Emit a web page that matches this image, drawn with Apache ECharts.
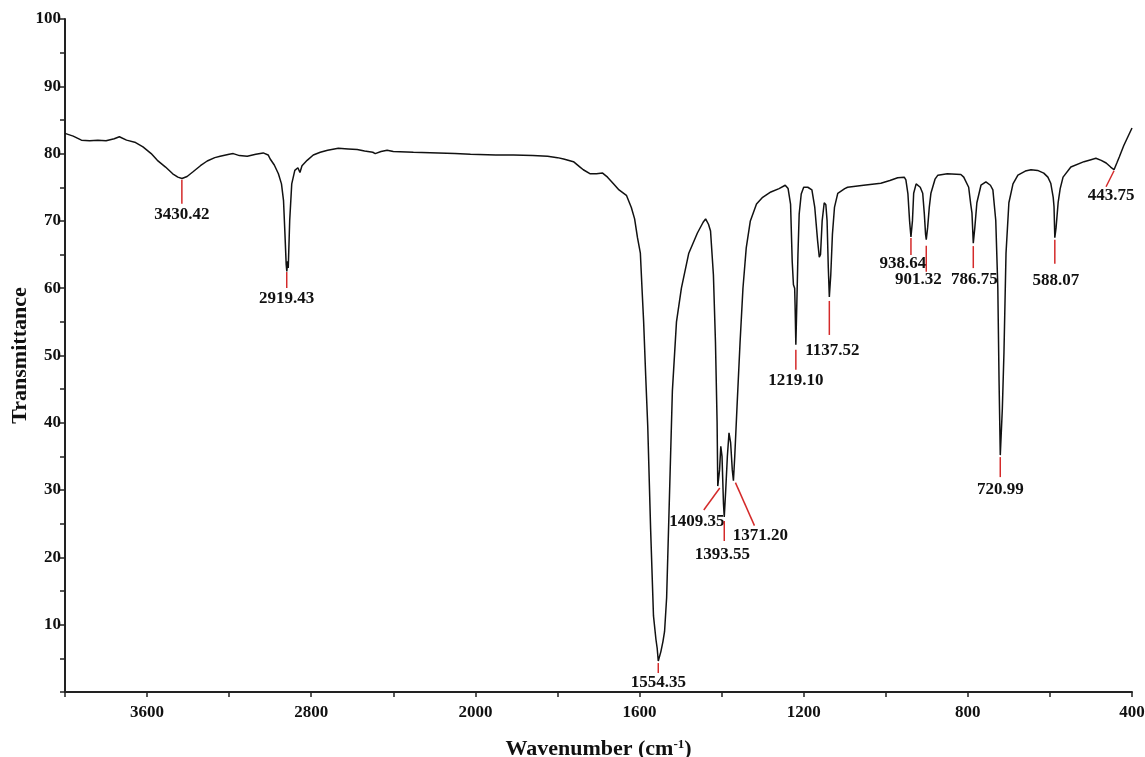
<!DOCTYPE html>
<html>
<head>
<meta charset="utf-8">
<script src="https://cdn.jsdelivr.net/npm/echarts@6/dist/echarts.min.js"></script>
<style>
  html, body { margin: 0; padding: 0; background: #fff; }
  #ftir { width: 1145px; height: 757px; }
</style>
</head>
<body>
<div id="ftir"></div>
<script>
// spectrum: wavenumber (cm-1) and transmittance (%)
var wavenumber = [
  4000, 3960, 3920, 3880, 3840, 3800, 3760, 3735, 3700, 3660, 3620, 3580, 3550, 3510, 3475, 3450, 3430, 3405, 3376, 3340,
  3307, 3270, 3244, 3200, 3180, 3150, 3112, 3070, 3034, 3010, 3000, 2980, 2960, 2945, 2935, 2928, 2922, 2919, 2915, 2912,
  2905, 2895, 2880, 2865, 2855, 2845, 2820, 2790, 2756, 2720, 2668, 2620, 2576, 2540, 2500, 2488, 2460, 2430, 2400, 2302,
  2180, 2100, 2024, 1950, 1907, 1860, 1824, 1800, 1785, 1761, 1745, 1737, 1720, 1705, 1690, 1678, 1663, 1650, 1632, 1620,
  1612, 1605, 1598, 1594, 1590, 1585, 1580, 1573, 1566, 1560, 1557, 1554.35, 1548, 1543, 1539, 1534, 1527, 1520, 1510, 1498,
  1480, 1459, 1445, 1439, 1432, 1427, 1420, 1415, 1411, 1409.35, 1405, 1402, 1399, 1395.5, 1393.55, 1390, 1386, 1382, 1378, 1374,
  1371.2, 1368, 1362, 1355, 1348, 1340, 1330, 1315, 1300, 1280, 1260, 1245, 1238, 1232, 1228, 1225, 1222, 1221, 1219.1, 1217,
  1214, 1211, 1206, 1200, 1190, 1180, 1173, 1166, 1162, 1159, 1155, 1150, 1146, 1143, 1140, 1137.52, 1134, 1130, 1125, 1117,
  1100, 1093, 1054, 1012, 990, 971, 955, 951, 946, 942, 938.64, 935, 932, 926, 922, 916, 910, 906, 903, 901.32,
  898, 894, 890, 880, 873, 850, 817, 810, 798, 793, 790, 786.75, 783, 778, 768, 756, 745, 739, 732, 727,
  724, 720.99, 716, 712, 707, 700, 690, 678, 660, 646, 630, 615, 605, 598, 592, 590, 588.07, 585, 580, 575,
  568, 549, 517, 500, 488, 475, 463, 452, 443.75, 437, 431, 420, 410, 400
];
var transmittance = [
  83.0, 82.6, 82.0, 81.9, 82.0, 81.9, 82.2, 82.5, 82.0, 81.7, 81.0, 80.0, 79.0, 78.0, 77.0, 76.5, 76.3, 76.6, 77.3, 78.2,
  78.9, 79.4, 79.6, 79.9, 80.0, 79.7, 79.6, 79.9, 80.1, 79.8, 79.2, 78.3, 77.0, 75.5, 73.0, 68.0, 63.5, 62.5, 64.0, 63.0,
  70.0, 75.5, 77.5, 77.9, 77.2, 78.2, 79.0, 79.8, 80.2, 80.5, 80.8, 80.7, 80.6, 80.4, 80.2, 80.0, 80.3, 80.5, 80.3, 80.2,
  80.1, 80.0, 79.9, 79.8, 79.8, 79.7, 79.6, 79.4, 79.2, 78.8, 78.0, 77.6, 77.0, 77.0, 77.1, 76.5, 75.5, 74.6, 73.8, 72.0,
  70.3, 67.5, 65.2, 60.0, 55.0, 47.0, 39.5, 24.2, 11.3, 7.8, 6.5, 4.6, 6.0, 7.5, 9.0, 14.0, 29.3, 44.7, 55.0, 60.0,
  65.2, 68.2, 69.8, 70.3, 69.5, 68.5, 62.0, 52.0, 40.0, 30.6, 33.0, 36.5, 35.0, 28.0, 26.0, 30.0, 35.0, 38.5, 37.0, 33.0,
  31.4, 35.0, 43.0, 52.0, 60.0, 66.0, 70.0, 72.5, 73.5, 74.3, 74.8, 75.3, 74.8, 72.5, 64.0, 60.5, 60.0, 57.5, 51.6, 57.0,
  65.0, 71.0, 74.0, 75.0, 75.0, 74.6, 72.0, 67.0, 64.6, 65.0, 70.0, 72.7, 72.4, 70.0, 63.0, 58.7, 62.0, 68.0, 72.0, 74.1,
  74.8, 75.0, 75.3, 75.6, 76.0, 76.4, 76.5, 76.1, 74.0, 70.0, 67.6, 70.0, 74.1, 75.5, 75.6, 75.0, 74.1, 71.0, 68.0, 67.2,
  69.0, 72.0, 74.1, 76.2, 76.8, 77.0, 76.9, 76.5, 75.0, 72.5, 71.2, 66.7, 69.0, 72.7, 75.3, 75.8, 75.3, 74.6, 70.1, 60.2,
  46.4, 35.2, 42.0, 50.4, 65.2, 72.7, 75.5, 76.8, 77.4, 77.6, 77.5, 77.1, 76.5, 75.6, 73.5, 72.1, 67.5, 69.0, 72.7, 74.8,
  76.5, 78.0, 78.8, 79.1, 79.3, 79.0, 78.6, 78.0, 77.6, 78.6, 79.5, 81.2, 82.5, 83.8
];

// labelled bands
var peakWn = [3430.42, 2919.43, 1554.35, 1409.35, 1393.55, 1371.20, 1219.10, 1137.52, 938.64, 901.32, 786.75, 720.99, 588.07, 443.75];
var peakT = [76.4, 62.7, 4.6, 30.6, 26.0, 31.4, 51.6, 58.7, 67.6, 67.2, 66.7, 35.2, 67.5, 77.6];

var yTicks = [10, 20, 30, 40, 50, 60, 70, 80, 90, 100];
var xTickLabels = [3600, 2800, 2000, 1600, 1200, 800, 400];

// leader line and label offsets in px from the band tip: x0, y0, x1, y1, labelDx, labelDy
var callout = [
  [0, 2, 0, 26, 0, 37],
  [0, 2, 0, 18, 0, 29],
  [0, 2, 0, 12, 0, 22],
  [2, 2, -14, 24, -21, 36],
  [0, 4, 0, 24, -2, 38],
  [2, 2, 21, 45, 27, 55],
  [0, 5, 0, 25, 0, 36],
  [0, 4, 0, 38, 3, 54],
  [0, 1, 0, 18, -8, 27],
  [0, 6, 0, 32, -8, 40],
  [0, 3, 0, 25, 1, 37],
  [0, 2, 0, 22, 0, 35],
  [0, 2, 0, 26, 1, 43],
  [0, 1, -8, 17, -3, 26]
];

// the instrument plots 4000-2000 at half the scale of 2000-400
function toU(wn) { return wn >= 2000 ? (4000 - wn) / 2 : 3000 - wn; }
function toWn(u) { return u <= 1000 ? 4000 - 2 * u : 3000 - u; }

var serif = '"Liberation Serif", "Times New Roman", serif';

var line = wavenumber.map(function (w, i) { return [toU(w), transmittance[i]]; });
var peaks = peakWn.map(function (w, i) { return [toU(w), peakT[i]]; });

var myChart = echarts.init(document.getElementById('ftir'));

myChart.setOption({
    backgroundColor: '#fff',
    animation: false,
    grid: { left: 65, right: 13, top: 19, bottom: 65, containLabel: false, outerBoundsMode: 'none' },
    xAxis: {
        type: 'value',
        min: 0,
        max: 2600,
        interval: 200,
        name: 'Wavenumber (cm{sup|-1})',
        nameLocation: 'middle',
        nameGap: 46,
        nameMoveOverlap: false,
        nameTextStyle: {
            fontFamily: serif, fontWeight: 'bold', fontSize: 22, color: '#111',
            rich: { sup: { fontFamily: serif, fontWeight: 'bold', fontSize: 13, color: '#111', verticalAlign: 'top', padding: [0, 0, 10, 0] } }
        },
        axisLine: { onZero: false, lineStyle: { color: '#222', width: 2 } },
        axisTick: { length: 5, lineStyle: { color: '#222', width: 1.5 } },
        axisLabel: {
            margin: 12,
            fontFamily: serif, fontWeight: 'bold', fontSize: 17, color: '#111',
            formatter: function (u) {
                var w = toWn(u);
                return xTickLabels.indexOf(w) >= 0 ? String(w) : '';
            }
        },
        splitLine: { show: false }
    },
    yAxis: {
        type: 'value',
        min: 0,
        max: 100,
        interval: 5,
        name: 'Transmittance',
        nameLocation: 'middle',
        nameGap: 34,
        nameMoveOverlap: false,
        nameTextStyle: { fontFamily: serif, fontWeight: 'bold', fontSize: 22, color: '#111' },
        axisLine: { show: true, lineStyle: { color: '#222', width: 2 } },
        axisTick: { show: true, length: 5, lineStyle: { color: '#222', width: 1.5 } },
        axisLabel: {
            margin: 4,
            fontFamily: serif, fontWeight: 'bold', fontSize: 17, color: '#111',
            formatter: function (v) { return yTicks.indexOf(v) >= 0 ? String(v) : ''; }
        },
        splitLine: { show: false }
    },
    series: [
        {
            type: 'line',
            data: line,
            showSymbol: false,
            smooth: false,
            lineStyle: { color: '#111', width: 1.5 },
            z: 3
        },
        {
            type: 'custom',
            data: peaks,
            z: 4,
            renderItem: function (params, api) {
                var p = api.coord([api.value(0), api.value(1)]);
                var o = callout[params.dataIndex];
                return {
                    type: 'group',
                    children: [
                        {
                            type: 'line',
                            shape: { x1: p[0] + o[0], y1: p[1] + o[1], x2: p[0] + o[2], y2: p[1] + o[3] },
                            style: { stroke: '#d42a2a', lineWidth: 1.5 }
                        },
                        {
                            type: 'text',
                            x: p[0] + o[4],
                            y: p[1] + o[5],
                            style: {
                                text: peakWn[params.dataIndex].toFixed(2),
                                fill: '#111',
                                font: 'bold 17px ' + serif,
                                align: 'center',
                                verticalAlign: 'middle'
                            }
                        }
                    ]
                };
            }
        }
    ]
});
</script>
</body>
</html>
